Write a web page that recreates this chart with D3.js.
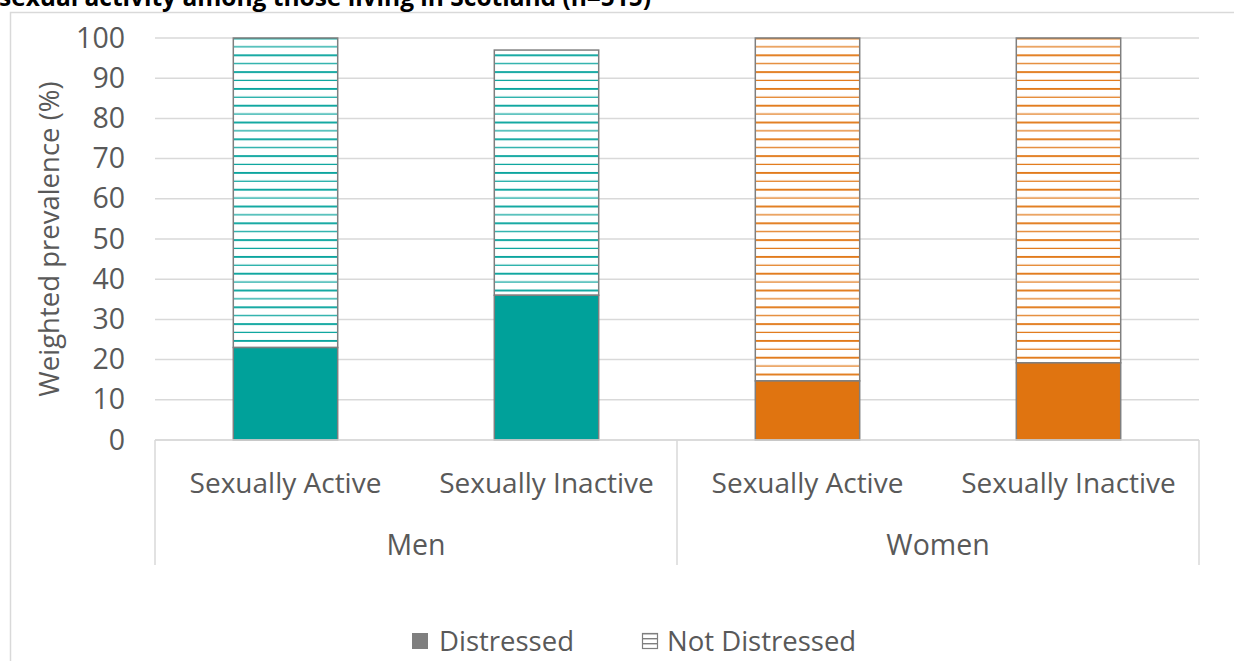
<!DOCTYPE html>
<html>
<head>
<meta charset="utf-8">
<script src="https://cdn.jsdelivr.net/npm/d3@7"></script>
<style>
  body { margin: 0; background: #fff; }
  svg { display: block; font-family: "Open Sans", sans-serif; }
</style>
</head>
<body>
<svg id="chart"></svg>
<script>
const width = 1234;
const height = 661;

// data
const groups = ["Men", "Women"];
const activity = ["Sexually Active", "Sexually Inactive"];
const distressed = [23, 36, 14.7, 19.2];
const notDistressed = [77, 61, 85.3, 80.8];
const series = ["Distressed", "Not Distressed"];
const groupColors = ["#00a19a", "#e07410"];
const yTicks = [0, 10, 20, 30, 40, 50, 60, 70, 80, 90, 100];

const bars = [];
groups.forEach((g, gi) => {
  activity.forEach((a, ai) => {
    const i = gi * activity.length + ai;
    bars.push({ key: g + "|" + a, group: g, gi, label: a, d: distressed[i], nd: notDistressed[i] });
  });
});

const margin = { top: 38, right: 35, bottom: 221, left: 155 };

const svg = d3.select("#chart")
  .attr("width", width)
  .attr("height", height);

// patterns, one per group colour
const defs = svg.append("defs");
groupColors.forEach((c, i) => {
  const p = defs.append("pattern")
    .attr("id", "hatch" + i)
    .attr("patternUnits", "userSpaceOnUse")
    .attr("width", 8)
    .attr("height", 16.8);
  p.append("rect").attr("width", 8).attr("height", 16.8).attr("fill", "#fff");
  p.append("rect").attr("y", 4).attr("width", 8).attr("height", 1.8).attr("fill", c);
  p.append("rect").attr("y", 12.6).attr("width", 8).attr("height", 1.2).attr("fill", c);
});
const lp = defs.append("pattern")
  .attr("id", "hatchLegend")
  .attr("patternUnits", "userSpaceOnUse")
  .attr("width", 4).attr("height", 5);
lp.append("rect").attr("width", 4).attr("height", 5).attr("fill", "#fff");
lp.append("rect").attr("y", 2).attr("width", 4).attr("height", 1.4).attr("fill", "#7f7f7f");

// outer chart border
svg.append("rect")
  .attr("x", 10.5).attr("y", 12.5)
  .attr("width", 1240).attr("height", 700)
  .attr("fill", "none")
  .attr("stroke", "#d9d9d9")
  .attr("stroke-width", 1.5);

// title (clipped at top in the source image)
svg.append("text")
  .attr("x", -1).attr("y", 6)
  .attr("font-weight", "bold")
  .attr("font-size", 24.5)
  .attr("fill", "#000")
  .text("sexual activity among those living in Scotland (n=515)");

const x = d3.scaleBand()
  .domain(bars.map(d => d.key))
  .range([margin.left, width - margin.right])
  .paddingInner(0.6)
  .paddingOuter(0.3);

const y = d3.scaleLinear()
  .domain([0, 100])
  .range([height - margin.bottom, margin.top]);

// gridlines
svg.append("g")
  .selectAll("line")
  .data(yTicks)
  .join("line")
  .attr("x1", margin.left)
  .attr("x2", width - margin.right)
  .attr("y1", d => y(d))
  .attr("y2", d => y(d))
  .attr("stroke", "#d9d9d9")
  .attr("stroke-width", 1.5);

// y axis
const yAxis = svg.append("g")
  .attr("transform", `translate(${margin.left},0)`)
  .call(d3.axisLeft(y).tickValues(yTicks).tickSize(0).tickPadding(30));
yAxis.select(".domain").remove();
yAxis.selectAll("text")
  .attr("font-family", "'Open Sans', sans-serif")
  .attr("font-size", 28.5)
  .attr("fill", "#595959");

svg.append("text")
  .attr("transform", `translate(59,${(y(0) + y(100)) / 2}) rotate(-90)`)
  .attr("text-anchor", "middle")
  .attr("font-size", 27.5)
  .attr("fill", "#595959")
  .text("Weighted prevalence (%)");

// bars
const barG = svg.append("g");
bars.forEach(b => {
  const bx = x(b.key);
  const bw = x.bandwidth();
  barG.append("rect")
    .attr("x", bx).attr("width", bw)
    .attr("y", y(b.d + b.nd)).attr("height", y(b.d) - y(b.d + b.nd))
    .attr("fill", `url(#hatch${b.gi})`)
    .attr("stroke", "#7f7f7f")
    .attr("stroke-width", 1.5);
  barG.append("rect")
    .attr("x", bx).attr("width", bw)
    .attr("y", y(b.d)).attr("height", y(0) - y(b.d))
    .attr("fill", groupColors[b.gi])
    .attr("stroke", "#7f7f7f")
    .attr("stroke-width", 1.5);
});

// category axis (two levels)
const axisY = y(0);
const step = x.step();
const left = margin.left, right = width - margin.right;
const ax = svg.append("g").attr("stroke", "#d9d9d9").attr("stroke-width", 1.5);
ax.append("line").attr("x1", left).attr("x2", right).attr("y1", axisY).attr("y2", axisY);
const seps = [left, left + step * activity.length, right];
ax.selectAll(".sep")
  .data(seps)
  .join("line")
  .attr("x1", d => d).attr("x2", d => d)
  .attr("y1", axisY).attr("y2", axisY + 125);

svg.append("g")
  .selectAll("text")
  .data(bars)
  .join("text")
  .attr("x", d => x(d.key) + x.bandwidth() / 2)
  .attr("y", axisY + 53)
  .attr("text-anchor", "middle")
  .attr("font-size", 28)
  .attr("fill", "#595959")
  .text(d => d.label);

svg.append("g")
  .selectAll("text")
  .data(groups)
  .join("text")
  .attr("x", (d, i) => left + step * activity.length * (i + 0.5))
  .attr("y", axisY + 115)
  .attr("text-anchor", "middle")
  .attr("font-size", 28.5)
  .attr("fill", "#595959")
  .text(d => d);

// legend
const legend = svg.append("g").attr("transform", "translate(0,641)");
legend.append("rect")
  .attr("x", 412).attr("y", -8).attr("width", 16).attr("height", 16)
  .attr("fill", "#7f7f7f");
legend.append("text")
  .attr("x", 439).attr("y", 10)
  .attr("font-size", 27.5)
  .attr("fill", "#595959")
  .text(series[0]);
legend.append("rect")
  .attr("x", 642.5).attr("y", -7.5).attr("width", 15).attr("height", 15)
  .attr("fill", "url(#hatchLegend)")
  .attr("stroke", "#7f7f7f")
  .attr("stroke-width", 1.2);
legend.append("text")
  .attr("x", 667).attr("y", 10)
  .attr("font-size", 27.5)
  .attr("fill", "#595959")
  .text(series[1]);
</script>
</body>
</html>
